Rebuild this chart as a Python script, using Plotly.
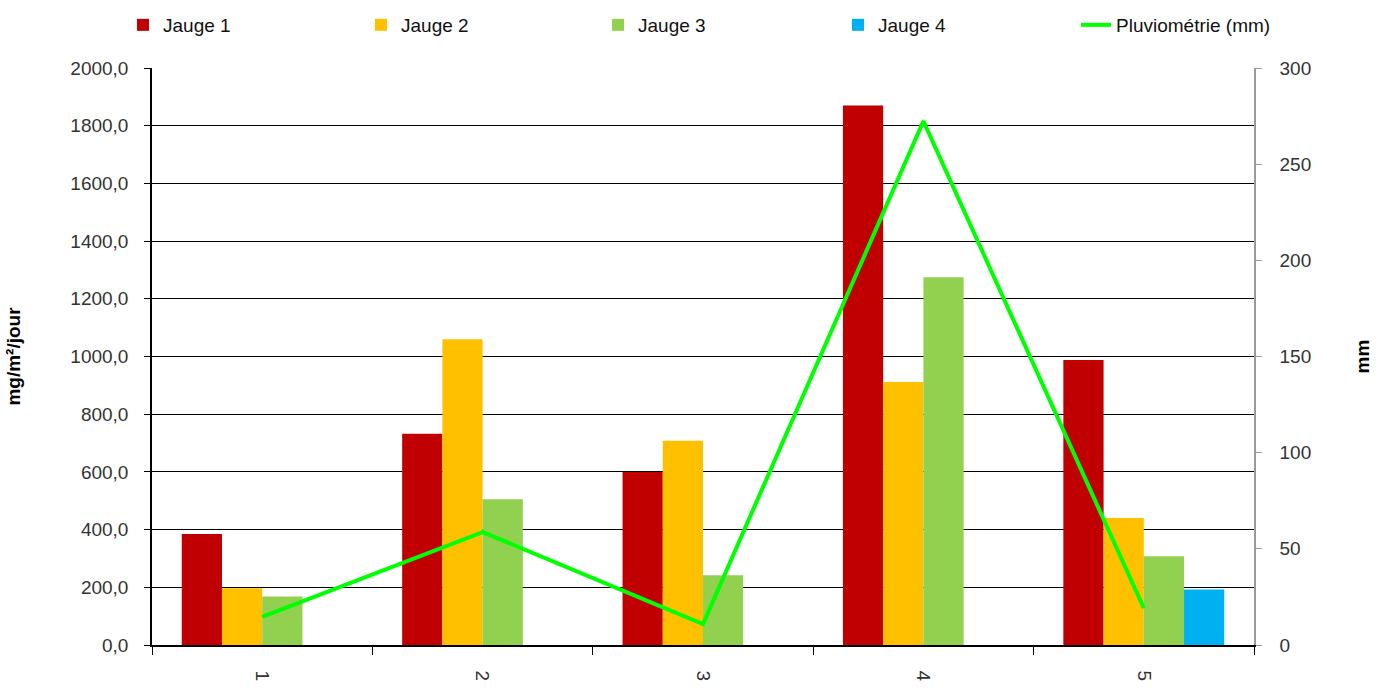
import plotly.graph_objects as go

categories = ["1", "2", "3", "4", "5"]
jauge1 = [385, 732, 600, 1870, 988]
jauge2 = [197, 1060, 708, 912, 440]
jauge3 = [168, 505, 242, 1275, 308]
jauge4 = [None, None, None, None, 192]
pluvio = [14.6, 58.7, 10.9, 272.4, 19.2]

left_ticks = [0, 200, 400, 600, 800, 1000, 1200, 1400, 1600, 1800, 2000]
right_ticks = [0, 50, 100, 150, 200, 250, 300]

font = "Liberation Sans, Arial, sans-serif"
W, H = 1388, 691
legend_text_x = [165, 403, 640, 880, 1118]

fig = go.Figure()
series = [("Jauge 1", jauge1, "#C00000"),
          ("Jauge 2", jauge2, "#FFC000"),
          ("Jauge 3", jauge3, "#92D050"),
          ("Jauge 4", jauge4, "#00B0F0")]
for i, (name, vals, col) in enumerate(series):
    fig.add_trace(go.Bar(x=categories, y=vals, name=name, marker_color=col,
                         marker_line_width=0, yaxis="y",
                         legend="legend" if i == 0 else f"legend{i+1}"))
fig.add_trace(go.Scatter(x=categories, y=pluvio, name="Pluviométrie (mm)",
                         mode="lines", line=dict(color="#00FF00", width=4),
                         yaxis="y2", legend="legend5"))

legends = {}
for i, tx in enumerate(legend_text_x):
    key = "legend" if i == 0 else f"legend{i+1}"
    legends[key] = dict(orientation="h", x=(tx - 42) / W, xanchor="left",
                        xref="container", y=1 - 6 / H, yanchor="top", yref="container",
                        font=dict(size=19, color="#111"), bgcolor="rgba(0,0,0,0)")

fig.update_layout(
    width=W, height=H,
    margin=dict(l=152, r=134, t=68, b=46, autoexpand=False),
    paper_bgcolor="white", plot_bgcolor="white",
    barmode="group", bargap=0.27, bargroupgap=0,
    separators=", ",
    font=dict(family=font, size=19, color="#333"),
    showlegend=True,
    xaxis=dict(type="category", showline=True, linecolor="black", linewidth=1.5,
               ticks="outside", tickson="boundaries", ticklen=8, tickcolor="black",
               tickangle=90, showgrid=False, tickfont=dict(size=19),
               ticklabelstandoff=20),
    yaxis=dict(range=[0, 2000], tickvals=left_ticks, tickformat=".1f",
               showline=True, linecolor="black", linewidth=1.5,
               showgrid=True, gridcolor="black", gridwidth=1,
               ticks="outside", ticklen=6, tickcolor="black", ticklabelstandoff=12,
               title=dict(text="<b>mg/m²/jour</b>", font=dict(size=19, color="black"), standoff=45),
               zeroline=False),
    yaxis2=dict(range=[0, 300], tickvals=right_ticks, overlaying="y", side="right",
                showline=True, linecolor="#999", linewidth=1.5, showgrid=False,
                ticks="outside", ticklen=6, tickcolor="#999", zeroline=False,
                ticklabelstandoff=14,
                title=dict(text="<b>mm</b>", font=dict(size=19, color="black"), standoff=45)),
    **legends,
)
fig.write_html("out.html")
